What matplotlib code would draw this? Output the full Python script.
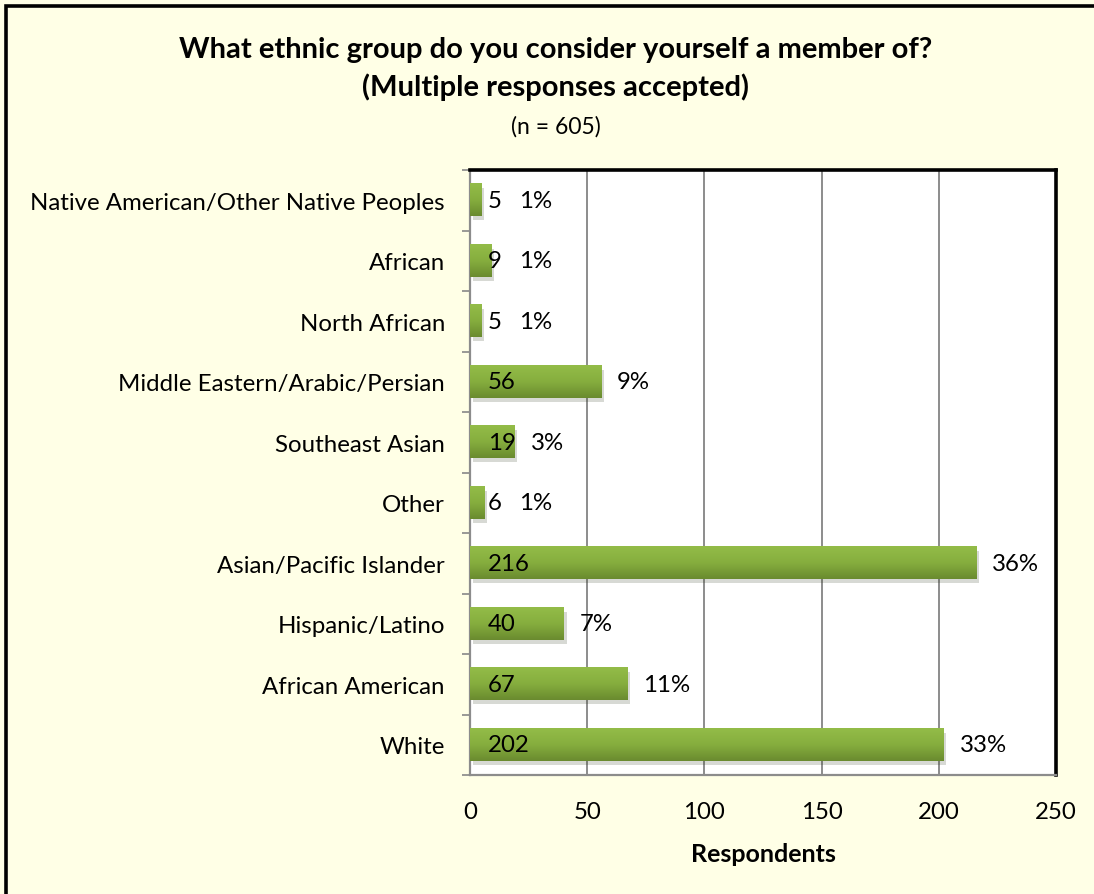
import matplotlib
matplotlib.use("Agg")
import matplotlib.pyplot as plt
import numpy as np
from matplotlib.colors import LinearSegmentedColormap
from matplotlib.patches import Rectangle
import matplotlib.patheffects as pe

categories = [
    "Native American/Other Native Peoples",
    "African",
    "North African",
    "Middle Eastern/Arabic/Persian",
    "Southeast Asian",
    "Other",
    "Asian/Pacific Islander",
    "Hispanic/Latino",
    "African American",
    "White",
]
counts = [5, 9, 5, 56, 19, 6, 216, 40, 67, 202]
percents = ["1%", "1%", "1%", "9%", "3%", "1%", "36%", "7%", "11%", "33%"]
x_ticks = [0, 50, 100, 150, 200, 250]

title = "What ethnic group do you consider yourself a member of?\n(Multiple responses accepted)"
subtitle = "(n = 605)"
xlabel = "Respondents"

FONT = ["Lato", "DejaVu Sans"]
plt.rcParams["font.family"] = FONT

FS = 17.3
bg = "#FFFFE6"
fig = plt.figure(figsize=(10.94, 8.95), dpi=100, facecolor=bg)

# outer border (top/left visible, right/bottom run off the image)
fig.patches.append(Rectangle((6 / 1094, -0.05), 1.2, 1 - 7 / 895 + 0.05,
                             transform=fig.transFigure, fill=False,
                             edgecolor="black", linewidth=2.6, zorder=0))

ax = fig.add_axes([470 / 1094, 1 - 776 / 895, 586 / 1094, 605 / 895])
ax.set_facecolor("white")

y = np.arange(len(categories))
bars = ax.barh(y, counts, height=0.53, color="#7FA43A", zorder=3,
               path_effects=[pe.SimplePatchShadow(offset=(2, -3), alpha=0.18),
                             pe.Normal()])

cmap = LinearSegmentedColormap.from_list("g", ["#93BC48", "#86AE3E", "#6A8B2F"])
grad = np.linspace(0, 1, 64).reshape(-1, 1)
for b in bars:
    x0, y0 = b.get_x(), b.get_y()
    w, h = b.get_width(), b.get_height()
    ax.imshow(grad, cmap=cmap, aspect="auto", extent=[x0, x0 + w, y0 + h, y0],
              zorder=3.5, interpolation="bilinear")

ax.set_xlim(0, 250)
ax.set_ylim(len(categories) - 0.5, -0.5)
ax.set_xticks(x_ticks)
ax.set_xticklabels([str(t) for t in x_ticks], fontsize=FS)
ax.tick_params(axis="x", length=0, pad=19)
ax.set_yticks(y)
ax.set_yticklabels(categories, fontsize=FS)
ax.tick_params(axis="y", which="major", length=0, pad=18)
ax.set_yticks(np.arange(len(categories) + 1) - 0.5, minor=True)
ax.tick_params(axis="y", which="minor", length=6, width=1.2, color="#888888", direction="out")

ax.grid(axis="x", color="#8C8C8C", linewidth=1.4, zorder=1)
ax.set_axisbelow(True)

for s in ["top", "right"]:
    ax.spines[s].set_color("black")
    ax.spines[s].set_linewidth(2.6)
for s in ["left", "bottom"]:
    ax.spines[s].set_color("#8C8C8C")
    ax.spines[s].set_linewidth(1.6)

ax.set_xlabel(xlabel, fontsize=18, fontweight="bold", labelpad=14)

for i, (v, p) in enumerate(zip(counts, percents)):
    ax.annotate(str(v), (0, i), xytext=(13, 0), textcoords="offset points",
                ha="left", va="center", fontsize=FS, zorder=5)
    ax.annotate(p, (max(v, 14), i), xytext=(11.5, 0), textcoords="offset points",
                ha="left", va="center", fontsize=FS, zorder=5)

fig.text(556 / 1094, 1 - 69 / 895, title, ha="center", va="center",
         fontsize=21, fontweight="bold", linespacing=1.45)
fig.text(556 / 1094, 1 - 127 / 895, subtitle, ha="center", va="center", fontsize=16.5)

fig.savefig("out.png", dpi=100, facecolor=bg)
